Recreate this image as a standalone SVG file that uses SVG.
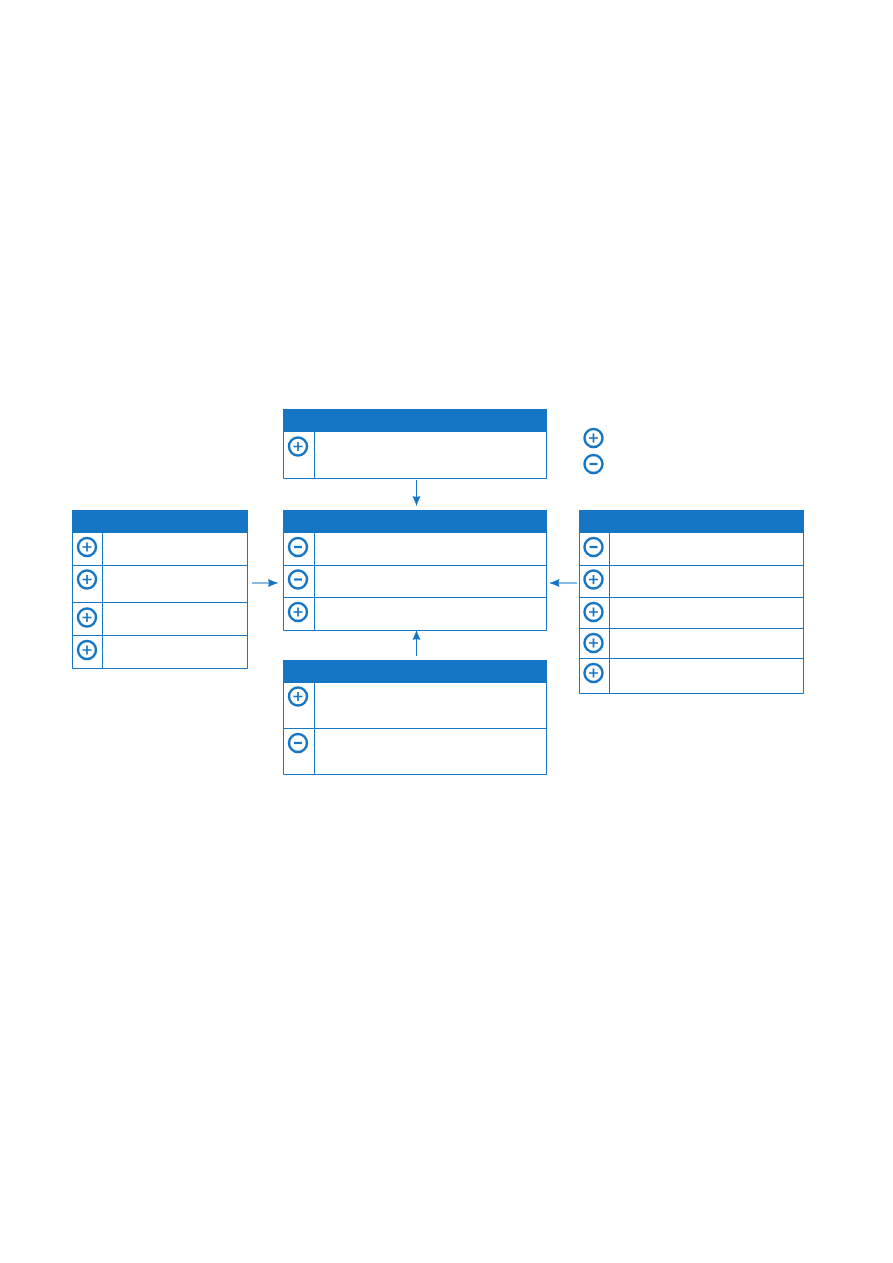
<svg xmlns="http://www.w3.org/2000/svg" xmlns:xlink="http://www.w3.org/1999/xlink" width="893" height="1263" viewBox="0 0 893 1263">
<style>
.head{fill:#1576c6}
.grid{fill:none;stroke:#1576c6;stroke-width:1}
.ring{fill:#fff;stroke:#1576c6;stroke-width:2.500}
.sign{fill:none;stroke:#1576c6;stroke-width:1.700}
.minus{fill:none;stroke:#1576c6;stroke-width:2.200}
.conn{fill:none;stroke:#1576c6;stroke-width:1;marker-end:url(#arrow)}
</style>
<defs>
<marker id="arrow" markerUnits="userSpaceOnUse" markerWidth="11" markerHeight="10" refX="9.500" refY="5" orient="auto"><path d="M0 1L9.500 5L0 9L1 5Z" fill="#1576c6"/></marker>
<g id="plus"><circle class="ring" r="9"/><path class="sign" d="M-4.500 0H4.500M0-4.500V4.500"/></g>
<g id="minus"><circle class="ring" r="9"/><path class="minus" d="M-4 0H4"/></g>
</defs>
<rect width="893" height="1263" fill="#fff"/>
<g id="connectors">
<path class="conn" d="M416.500 480V505.500"/>
<path class="conn" d="M252 583H277.500"/>
<path class="conn" d="M577 583H550"/>
<path class="conn" d="M416.500 656V630.500"/>
</g>
<g id="node-top">
<rect class="head" x="283" y="409" width="264" height="23"/>
<path class="grid" d="M283.500 432V478.500H546.500V432M314.500 432V478.500"/>
<use xlink:href="#plus" href="#plus" x="298" y="446.500"/>
</g>
<g id="node-legend">
<use xlink:href="#plus" href="#plus" x="593.500" y="438"/>
<use xlink:href="#minus" href="#minus" x="593.500" y="464"/>
</g>
<g id="node-center">
<rect class="head" x="283" y="510" width="264" height="23"/>
<path class="grid" d="M283.500 533V630.500H546.500V533M314.500 533V630.500M283.500 565.500H546.500M283.500 597.500H546.500"/>
<use xlink:href="#minus" href="#minus" x="298" y="547"/>
<use xlink:href="#minus" href="#minus" x="298" y="579.500"/>
<use xlink:href="#plus" href="#plus" x="298" y="612"/>
</g>
<g id="node-left">
<rect class="head" x="72" y="510" width="176" height="23"/>
<path class="grid" d="M72.500 533V668.500H247.500V533M102.500 533V668.500M72.500 565.500H247.500M72.500 602.500H247.500M72.500 635.500H247.500"/>
<use xlink:href="#plus" href="#plus" x="87" y="547"/>
<use xlink:href="#plus" href="#plus" x="87" y="579.500"/>
<use xlink:href="#plus" href="#plus" x="87" y="617.500"/>
<use xlink:href="#plus" href="#plus" x="87" y="650"/>
</g>
<g id="node-right">
<rect class="head" x="579" y="510" width="225" height="23"/>
<path class="grid" d="M579.500 533V693.500H803.500V533M609.500 533V693.500M579.500 565.500H803.500M579.500 597.500H803.500M579.500 628.500H803.500M579.500 658.500H803.500"/>
<use xlink:href="#minus" href="#minus" x="593.500" y="547"/>
<use xlink:href="#plus" href="#plus" x="593.500" y="579.500"/>
<use xlink:href="#plus" href="#plus" x="593.500" y="612"/>
<use xlink:href="#plus" href="#plus" x="593.500" y="643"/>
<use xlink:href="#plus" href="#plus" x="593.500" y="673"/>
</g>
<g id="node-bottom">
<rect class="head" x="283" y="660" width="264" height="23"/>
<path class="grid" d="M283.500 683V774.500H546.500V683M314.500 683V774.500M283.500 728.500H546.500"/>
<use xlink:href="#plus" href="#plus" x="298" y="696.500"/>
<use xlink:href="#minus" href="#minus" x="298" y="743"/>
</g>
</svg>
